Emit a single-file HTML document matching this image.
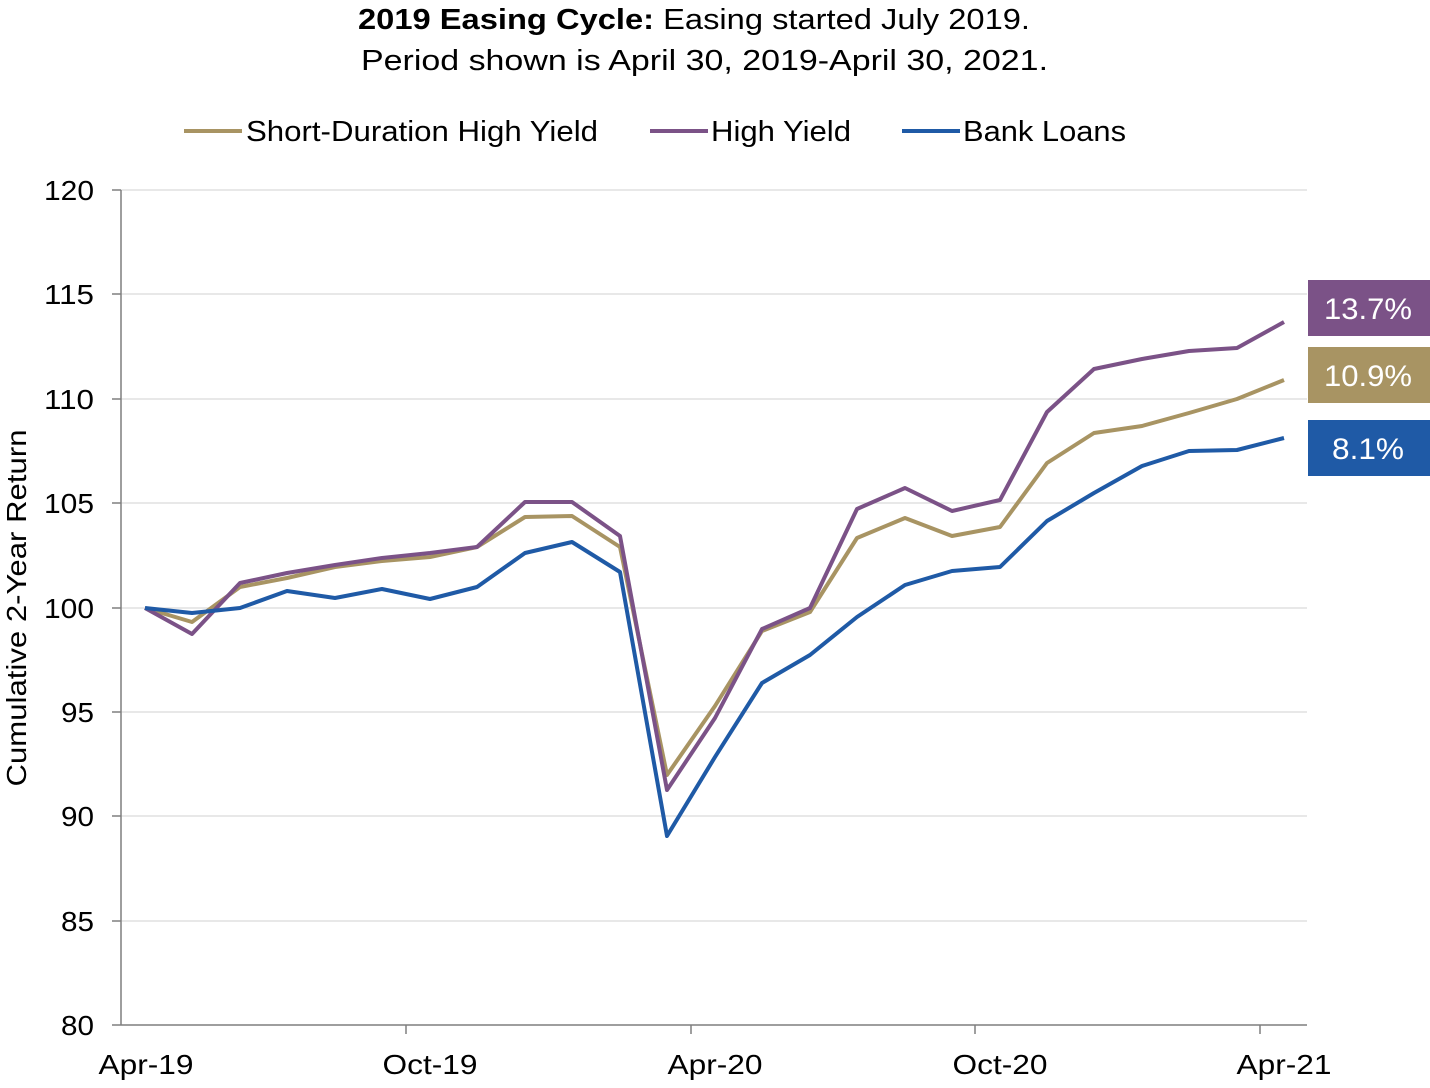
<!DOCTYPE html>
<html><head><meta charset="utf-8"><style>
body{margin:0;background:#fff;}
svg text{font-family:"Liberation Sans",Arial,sans-serif;}
</style></head><body>
<svg width="1430" height="1083" viewBox="0 0 1430 1083" xmlns="http://www.w3.org/2000/svg">
<text x="358" y="29" font-size="29" textLength="672" lengthAdjust="spacingAndGlyphs" fill="#000"><tspan font-weight="bold">2019 Easing Cycle:</tspan> Easing started July 2019.</text>
<text x="361" y="70" font-size="29" textLength="687" lengthAdjust="spacingAndGlyphs" fill="#000">Period shown is April 30, 2019-April 30, 2021.</text>
<line x1="184" y1="131" x2="242" y2="131" stroke="#a89463" stroke-width="4"/>
<text x="246" y="141" font-size="29" textLength="352" lengthAdjust="spacingAndGlyphs">Short-Duration High Yield</text>
<line x1="650" y1="131" x2="708" y2="131" stroke="#7b5287" stroke-width="4"/>
<text x="711" y="141" font-size="29" textLength="140" lengthAdjust="spacingAndGlyphs">High Yield</text>
<line x1="902" y1="131" x2="960" y2="131" stroke="#1f5aa6" stroke-width="4"/>
<text x="963" y="141" font-size="29" textLength="163" lengthAdjust="spacingAndGlyphs">Bank Loans</text>
<g stroke="#d9d9d9" stroke-width="1.3">
<line x1="121" y1="190" x2="1307" y2="190"/><line x1="121" y1="294" x2="1307" y2="294"/>
<line x1="121" y1="399" x2="1307" y2="399"/><line x1="121" y1="503" x2="1307" y2="503"/>
<line x1="121" y1="608" x2="1307" y2="608"/><line x1="121" y1="712" x2="1307" y2="712"/>
<line x1="121" y1="816" x2="1307" y2="816"/><line x1="121" y1="921" x2="1307" y2="921"/>
</g>
<g stroke="#7f7f7f" stroke-width="1.5">
<line x1="121" y1="190" x2="121" y2="1025"/><line x1="121" y1="1025" x2="1307" y2="1025"/>
<line x1="112" y1="190" x2="121" y2="190"/><line x1="112" y1="294" x2="121" y2="294"/>
<line x1="112" y1="399" x2="121" y2="399"/><line x1="112" y1="503" x2="121" y2="503"/>
<line x1="112" y1="608" x2="121" y2="608"/><line x1="112" y1="712" x2="121" y2="712"/>
<line x1="112" y1="816" x2="121" y2="816"/><line x1="112" y1="921" x2="121" y2="921"/>
<line x1="112" y1="1025" x2="121" y2="1025"/>
<line x1="406" y1="1025" x2="406" y2="1034"/><line x1="691" y1="1025" x2="691" y2="1034"/>
<line x1="975" y1="1025" x2="975" y2="1034"/><line x1="1260" y1="1025" x2="1260" y2="1034"/>
</g>
<g font-size="28" text-anchor="end">
<text x="94" y="200" textLength="50" lengthAdjust="spacingAndGlyphs">120</text><text x="94" y="304" textLength="50" lengthAdjust="spacingAndGlyphs">115</text><text x="94" y="409" textLength="50" lengthAdjust="spacingAndGlyphs">110</text>
<text x="94" y="513" textLength="50" lengthAdjust="spacingAndGlyphs">105</text><text x="94" y="618" textLength="50" lengthAdjust="spacingAndGlyphs">100</text><text x="94" y="722" textLength="33" lengthAdjust="spacingAndGlyphs">95</text>
<text x="94" y="826" textLength="33" lengthAdjust="spacingAndGlyphs">90</text><text x="94" y="931" textLength="33" lengthAdjust="spacingAndGlyphs">85</text><text x="94" y="1035" textLength="33" lengthAdjust="spacingAndGlyphs">80</text>
</g>
<g font-size="28" text-anchor="middle">
<text x="146" y="1074" textLength="95" lengthAdjust="spacingAndGlyphs">Apr-19</text><text x="430" y="1074" textLength="95" lengthAdjust="spacingAndGlyphs">Oct-19</text><text x="715" y="1074" textLength="95" lengthAdjust="spacingAndGlyphs">Apr-20</text>
<text x="1000" y="1074" textLength="95" lengthAdjust="spacingAndGlyphs">Oct-20</text><text x="1284" y="1074" textLength="95" lengthAdjust="spacingAndGlyphs">Apr-21</text>
</g>
<text transform="translate(26,608) rotate(-90)" font-size="28" text-anchor="middle" textLength="357" lengthAdjust="spacingAndGlyphs">Cumulative 2-Year Return</text>
<polyline fill="none" stroke="#a89463" stroke-width="4" stroke-linejoin="round" points="145,608 192,622 240,587 287,578 335,567 382,561 430,557 477,547 525,517 572,516 620,547 667,775 715,706 762,631 810,612 857,538 905,518 952,536 1000,527 1047,463 1094,433 1142,426 1189,413 1237,399 1284,380"/>
<polyline fill="none" stroke="#7b5287" stroke-width="4" stroke-linejoin="round" points="145,608 192,634 240,583 287,573 335,565 382,558 430,553 477,547 525,502 572,502 620,536 667,790 715,718 762,629 810,608 857,509 905,488 952,511 1000,500 1047,412 1094,369 1142,359 1189,351 1237,348 1284,322"/>
<polyline fill="none" stroke="#1f5aa6" stroke-width="4" stroke-linejoin="round" points="145,608 192,613 240,608 287,591 335,598 382,589 430,599 477,587 525,553 572,542 620,572 667,836 715,757 762,683 810,655 857,617 905,585 952,571 1000,567 1047,521 1094,493 1142,466 1189,451 1237,450 1284,438"/>
<rect x="1308" y="280" width="122" height="56" fill="#7b5287"/>
<text x="1368" y="319" font-size="30" fill="#fff" text-anchor="middle" textLength="88" lengthAdjust="spacingAndGlyphs">13.7%</text>
<rect x="1308" y="347" width="122" height="56" fill="#a89463"/>
<text x="1368" y="386" font-size="30" fill="#fff" text-anchor="middle" textLength="88" lengthAdjust="spacingAndGlyphs">10.9%</text>
<rect x="1308" y="420" width="122" height="56" fill="#1f5aa6"/>
<text x="1368" y="459" font-size="30" fill="#fff" text-anchor="middle" textLength="72" lengthAdjust="spacingAndGlyphs">8.1%</text>
</svg>
</body></html>
